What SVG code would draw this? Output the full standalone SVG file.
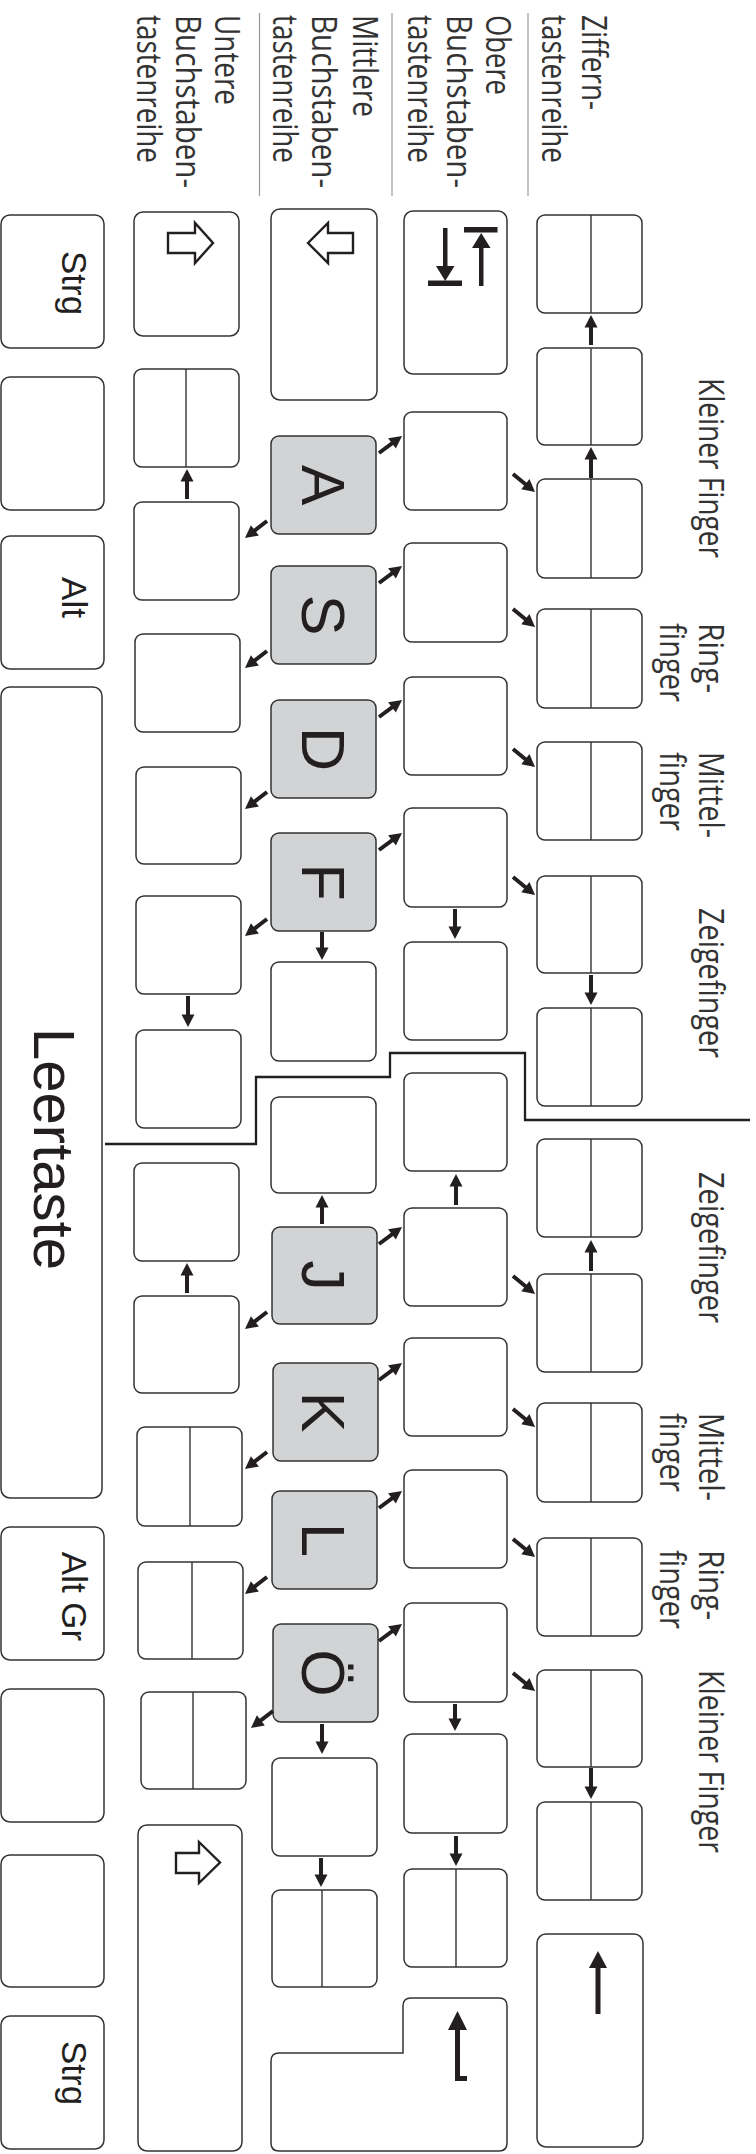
<svg xmlns="http://www.w3.org/2000/svg" width="756" height="2154" viewBox="0 0 756 2154">
<style>
.k{fill:#fff;stroke:#333;stroke-width:1.5}
.h{fill:#d1d3d4;stroke:#333;stroke-width:1.5}
.d{stroke:#333;stroke-width:1.4}
.lbl{font-family:"Open Sans","Liberation Sans",sans-serif;font-size:34px;fill:#333}
.kl{font-family:"Liberation Sans",Arial,sans-serif;fill:#231f20}
.big{font-size:61px}
.mid{font-size:35px}
.a{stroke:#231f20;stroke-width:4;fill:none;marker-end:url(#ah)}
.sep{stroke:#999;stroke-width:1.2}
.ic{fill:#231f20}
.io{fill:#fff;stroke:#231f20;stroke-width:2.4;stroke-linejoin:miter}
</style>
<defs>
<marker id="ah" viewBox="-3 -7 14 14" refX="0" refY="0" markerWidth="14" markerHeight="14" markerUnits="userSpaceOnUse" orient="auto"><path d="M-2.5,-6.5 L10,0 L-2.5,6.5 z" fill="#231f20"/></marker>
</defs>
<rect width="756" height="2154" fill="#fff"/>

<g id="row-labels">
<line class="sep" x1="259.5" y1="13" x2="259.5" y2="196"/>
<line class="sep" x1="392" y1="13" x2="392" y2="196"/>
<line class="sep" x1="528" y1="13" x2="528" y2="196"/>
<text class="lbl" transform="translate(582,15) rotate(90)" textLength="95" lengthAdjust="spacingAndGlyphs">Ziffern-</text>
<text class="lbl" transform="translate(542,15) rotate(90)" textLength="148" lengthAdjust="spacingAndGlyphs">tastenreihe</text>
<text class="lbl" transform="translate(486,15) rotate(90)" textLength="80" lengthAdjust="spacingAndGlyphs">Obere</text>
<text class="lbl" transform="translate(447,15) rotate(90)" textLength="173" lengthAdjust="spacingAndGlyphs">Buchstaben-</text>
<text class="lbl" transform="translate(408,15) rotate(90)" textLength="148" lengthAdjust="spacingAndGlyphs">tastenreihe</text>
<text class="lbl" transform="translate(353,15) rotate(90)" textLength="102" lengthAdjust="spacingAndGlyphs">Mittlere</text>
<text class="lbl" transform="translate(312,15) rotate(90)" textLength="173" lengthAdjust="spacingAndGlyphs">Buchstaben-</text>
<text class="lbl" transform="translate(273,15) rotate(90)" textLength="148" lengthAdjust="spacingAndGlyphs">tastenreihe</text>
<text class="lbl" transform="translate(215,15) rotate(90)" textLength="90" lengthAdjust="spacingAndGlyphs">Untere</text>
<text class="lbl" transform="translate(176,15) rotate(90)" textLength="173" lengthAdjust="spacingAndGlyphs">Buchstaben-</text>
<text class="lbl" transform="translate(137,15) rotate(90)" textLength="148" lengthAdjust="spacingAndGlyphs">tastenreihe</text>
</g>

<g id="finger-labels">
<text class="lbl" transform="translate(699,378) rotate(90)" textLength="180" lengthAdjust="spacingAndGlyphs">Kleiner Finger</text>
<text class="lbl" transform="translate(699,623) rotate(90)" textLength="70" lengthAdjust="spacingAndGlyphs">Ring-</text>
<text class="lbl" transform="translate(660,623) rotate(90)" textLength="79" lengthAdjust="spacingAndGlyphs">finger</text>
<text class="lbl" transform="translate(699,752) rotate(90)" textLength="86" lengthAdjust="spacingAndGlyphs">Mittel-</text>
<text class="lbl" transform="translate(660,752) rotate(90)" textLength="79" lengthAdjust="spacingAndGlyphs">finger</text>
<text class="lbl" transform="translate(699,908) rotate(90)" textLength="150" lengthAdjust="spacingAndGlyphs">Zeigefinger</text>
<text class="lbl" transform="translate(699,1172) rotate(90)" textLength="151" lengthAdjust="spacingAndGlyphs">Zeigefinger</text>
<text class="lbl" transform="translate(699,1413) rotate(90)" textLength="88" lengthAdjust="spacingAndGlyphs">Mittel-</text>
<text class="lbl" transform="translate(660,1413) rotate(90)" textLength="79" lengthAdjust="spacingAndGlyphs">finger</text>
<text class="lbl" transform="translate(699,1550) rotate(90)" textLength="70" lengthAdjust="spacingAndGlyphs">Ring-</text>
<text class="lbl" transform="translate(660,1550) rotate(90)" textLength="79" lengthAdjust="spacingAndGlyphs">finger</text>
<text class="lbl" transform="translate(699,1670) rotate(90)" textLength="183" lengthAdjust="spacingAndGlyphs">Kleiner Finger</text>
</g>

<g id="num1"><rect class="k" x="537" y="215" width="105" height="98" rx="8"/><line class="d" x1="591" y1="215" x2="591" y2="313"/></g>
<g id="num2"><rect class="k" x="537" y="348" width="105" height="97" rx="8"/><line class="d" x1="591" y1="348" x2="591" y2="445"/></g>
<g id="num3"><rect class="k" x="537" y="479" width="105" height="99" rx="8"/><line class="d" x1="591" y1="479" x2="591" y2="578"/></g>
<g id="num4"><rect class="k" x="537" y="609" width="105" height="99" rx="8"/><line class="d" x1="591" y1="609" x2="591" y2="708"/></g>
<g id="num5"><rect class="k" x="537" y="742" width="105" height="98" rx="8"/><line class="d" x1="591" y1="742" x2="591" y2="840"/></g>
<g id="num6"><rect class="k" x="537" y="876" width="105" height="97" rx="8"/><line class="d" x1="591" y1="876" x2="591" y2="973"/></g>
<g id="num7"><rect class="k" x="537" y="1008" width="105" height="98" rx="8"/><line class="d" x1="591" y1="1008" x2="591" y2="1106"/></g>
<g id="num8"><rect class="k" x="537" y="1139" width="105" height="98" rx="8"/><line class="d" x1="591" y1="1139" x2="591" y2="1237"/></g>
<g id="num9"><rect class="k" x="537" y="1274" width="105" height="98" rx="8"/><line class="d" x1="591" y1="1274" x2="591" y2="1372"/></g>
<g id="num10"><rect class="k" x="537" y="1403" width="105" height="99" rx="8"/><line class="d" x1="591" y1="1403" x2="591" y2="1502"/></g>
<g id="num11"><rect class="k" x="537" y="1538" width="105" height="98" rx="8"/><line class="d" x1="591" y1="1538" x2="591" y2="1636"/></g>
<g id="num12"><rect class="k" x="537" y="1670" width="105" height="97" rx="8"/><line class="d" x1="591" y1="1670" x2="591" y2="1767"/></g>
<g id="num13"><rect class="k" x="537" y="1802" width="105" height="98" rx="8"/><line class="d" x1="591" y1="1802" x2="591" y2="1900"/></g>
<g id="backspace"><rect class="k" x="537" y="1934" width="106" height="213" rx="9"/><rect class="ic" x="595.5" y="1966" width="5" height="48"/><polygon class="ic" points="589,1968 607,1968 598,1951"/></g>

<g id="tab"><rect class="k" x="404" y="211" width="103" height="163" rx="9"/>
<rect class="ic" x="443" y="228" width="4.5" height="40"/><polygon class="ic" points="436,266 454.5,266 445.2,281"/><rect class="ic" x="428" y="280.5" width="34" height="5.5"/>
<rect class="ic" x="479" y="246" width="4.5" height="40"/><polygon class="ic" points="472,248 490.5,248 481.2,233"/><rect class="ic" x="464" y="227" width="33.5" height="5.5"/></g>
<g id="q"><rect class="k" x="404" y="412" width="103" height="98" rx="8"/></g>
<g id="w"><rect class="k" x="404" y="543" width="103" height="99" rx="8"/></g>
<g id="e"><rect class="k" x="404" y="677" width="103" height="98" rx="8"/></g>
<g id="r"><rect class="k" x="404" y="808" width="103" height="99" rx="8"/></g>
<g id="t"><rect class="k" x="404" y="942" width="103" height="98" rx="8"/></g>
<g id="z"><rect class="k" x="404" y="1073" width="103" height="98" rx="8"/></g>
<g id="u"><rect class="k" x="404" y="1208" width="103" height="98" rx="8"/></g>
<g id="i"><rect class="k" x="404" y="1338" width="103" height="98" rx="8"/></g>
<g id="o"><rect class="k" x="404" y="1470" width="103" height="98" rx="8"/></g>
<g id="p"><rect class="k" x="404" y="1603" width="103" height="99" rx="8"/></g>
<g id="ue"><rect class="k" x="404" y="1734" width="103" height="99" rx="8"/></g>
<g id="plus"><rect class="k" x="404" y="1869" width="103" height="98" rx="8"/><line class="d" x1="456" y1="1869" x2="456" y2="1967"/></g>
<g id="enter"><path class="k" d="M271,2061 Q271,2053 279,2053 L403,2053 L403,2006 Q403,1998 411,1998 L499,1998 Q507,1998 507,2006 L507,2143 Q507,2151 499,2151 L279,2151 Q271,2151 271,2143 Z"/>
<rect class="ic" x="455" y="2028" width="5" height="53"/><rect class="ic" x="455" y="2076" width="12" height="5"/><polygon class="ic" points="448,2030 467,2030 457.5,2011"/></g>

<g id="caps"><rect class="k" x="271" y="209" width="106" height="191" rx="9"/><polygon class="io" points="308,243 328,223 328,233 353,233 353,253 328,253 328,263"/></g>
<g id="key-a"><rect class="h" x="271" y="436" width="105" height="98" rx="8"/><text class="kl big" transform="translate(302,485) rotate(90)" text-anchor="middle">A</text></g>
<g id="key-s"><rect class="h" x="271" y="566" width="105" height="98" rx="8"/><text class="kl big" transform="translate(302,615) rotate(90)" text-anchor="middle">S</text></g>
<g id="key-d"><rect class="h" x="271" y="700" width="105" height="98" rx="8"/><text class="kl big" transform="translate(302,749) rotate(90)" text-anchor="middle">D</text></g>
<g id="key-f"><rect class="h" x="271" y="833" width="105" height="98" rx="8"/><text class="kl big" transform="translate(302,882) rotate(90)" text-anchor="middle">F</text></g>
<g id="g"><rect class="k" x="271" y="962" width="105" height="99" rx="8"/></g>
<g id="hkey"><rect class="k" x="271" y="1097" width="105" height="96" rx="8"/></g>
<g id="key-j"><rect class="h" x="272" y="1227" width="105" height="97" rx="8"/><text class="kl big" transform="translate(302,1275.5) rotate(90)" text-anchor="middle">J</text></g>
<g id="key-k"><rect class="h" x="273" y="1363" width="105" height="98" rx="8"/><text class="kl big" transform="translate(302,1412) rotate(90)" text-anchor="middle">K</text></g>
<g id="key-l"><rect class="h" x="272" y="1491" width="105" height="98" rx="8"/><text class="kl big" transform="translate(302,1540) rotate(90)" text-anchor="middle">L</text></g>
<g id="key-oe"><rect class="h" x="273" y="1624" width="105" height="98" rx="8"/><text class="kl big" transform="translate(302,1673) rotate(90)" text-anchor="middle">Ö</text></g>
<g id="ae"><rect class="k" x="272" y="1758" width="105" height="98" rx="8"/></g>
<g id="hash"><rect class="k" x="272" y="1890" width="105" height="97" rx="8"/><line class="d" x1="322" y1="1890" x2="322" y2="1987"/></g>

<g id="lshift"><rect class="k" x="134" y="212" width="105" height="124" rx="9"/><polygon class="io" points="168,233 195,233 195,223 213,243 195,263 195,253 168,253"/></g>
<g id="less"><rect class="k" x="134" y="369" width="105" height="98" rx="8"/><line class="d" x1="186" y1="369" x2="186" y2="467"/></g>
<g id="y"><rect class="k" x="134" y="502" width="105" height="98" rx="8"/></g>
<g id="x"><rect class="k" x="135" y="634" width="105" height="98" rx="8"/></g>
<g id="c"><rect class="k" x="136" y="767" width="105" height="97" rx="8"/></g>
<g id="v"><rect class="k" x="136" y="896" width="105" height="98" rx="8"/></g>
<g id="b"><rect class="k" x="136" y="1030" width="105" height="98" rx="8"/></g>
<g id="n"><rect class="k" x="134" y="1163" width="105" height="98" rx="8"/></g>
<g id="m"><rect class="k" x="134" y="1296" width="105" height="97" rx="8"/></g>
<g id="comma"><rect class="k" x="137" y="1427" width="105" height="99" rx="8"/><line class="d" x1="190" y1="1427" x2="190" y2="1526"/></g>
<g id="period"><rect class="k" x="138" y="1562" width="105" height="97" rx="8"/><line class="d" x1="192" y1="1562" x2="192" y2="1659"/></g>
<g id="minus"><rect class="k" x="141" y="1692" width="105" height="97" rx="8"/><line class="d" x1="193" y1="1692" x2="193" y2="1789"/></g>
<g id="rshift"><rect class="k" x="138" y="1825" width="104" height="326" rx="9"/><polygon class="io" points="176,1853 199,1853 199,1842 220,1862.5 199,1883 199,1873 176,1873"/></g>

<g id="strg-l"><rect class="k" x="1" y="215" width="103" height="133" rx="9"/><text class="kl mid" transform="translate(62,283) rotate(90)" text-anchor="middle">Strg</text></g>
<g id="win-l"><rect class="k" x="1" y="377" width="103" height="133" rx="9"/></g>
<g id="alt"><rect class="k" x="1" y="536" width="103" height="133" rx="9"/><text class="kl mid" transform="translate(62,597.5) rotate(90)" text-anchor="middle">Alt</text></g>
<g id="space"><rect class="k" x="1" y="687" width="101" height="811" rx="9"/><text class="kl" font-size="58" transform="translate(34,1149) rotate(90)" text-anchor="middle">Leertaste</text></g>
<g id="altgr"><rect class="k" x="1" y="1527" width="103" height="133" rx="9"/><text class="kl mid" transform="translate(62,1596.5) rotate(90)" text-anchor="middle">Alt Gr</text></g>
<g id="win-r"><rect class="k" x="1" y="1689" width="103" height="133" rx="9"/></g>
<g id="menu"><rect class="k" x="1" y="1855" width="103" height="132" rx="9"/></g>
<g id="strg-r"><rect class="k" x="1" y="2016" width="103" height="133" rx="9"/><text class="kl mid" transform="translate(62,2073) rotate(90)" text-anchor="middle">Strg</text></g>

<g id="hand-divider">
<polyline points="105,1144 256,1144 256,1077 390,1077 390,1053 525,1053 525,1120 750,1120" fill="none" stroke="#231f20" stroke-width="2.3"/>
</g>

<g id="connectors">
<line class="a" x1="379" y1="453" x2="394" y2="441.9"/>
<line class="a" x1="379" y1="583" x2="394" y2="571.9"/>
<line class="a" x1="379" y1="717" x2="394" y2="705.9"/>
<line class="a" x1="379" y1="850" x2="394" y2="838.9"/>
<line class="a" x1="379" y1="1244" x2="394" y2="1232.9"/>
<line class="a" x1="379" y1="1380" x2="394" y2="1368.9"/>
<line class="a" x1="379" y1="1508" x2="394" y2="1496.9"/>
<line class="a" x1="379" y1="1641" x2="394" y2="1629.9"/>

<line class="a" x1="513" y1="474" x2="527.3" y2="485.7"/>
<line class="a" x1="513" y1="609" x2="527.3" y2="620.7"/>
<line class="a" x1="513" y1="749" x2="527.3" y2="760.7"/>
<line class="a" x1="513" y1="877" x2="527.3" y2="888.7"/>
<line class="a" x1="513" y1="1276" x2="527.3" y2="1287.7"/>
<line class="a" x1="513" y1="1409" x2="527.3" y2="1420.7"/>
<line class="a" x1="513" y1="1539" x2="527.3" y2="1550.7"/>
<line class="a" x1="513" y1="1673" x2="527.3" y2="1684.7"/>

<line class="a" x1="267" y1="521" x2="252.9" y2="531.9"/>
<line class="a" x1="267" y1="651" x2="252.9" y2="661.9"/>
<line class="a" x1="267" y1="792" x2="252.9" y2="802.9"/>
<line class="a" x1="267" y1="919" x2="252.9" y2="929.9"/>
<line class="a" x1="267" y1="1312" x2="252.9" y2="1322.9"/>
<line class="a" x1="267" y1="1452" x2="252.9" y2="1462.9"/>
<line class="a" x1="267" y1="1577" x2="252.9" y2="1587.9"/>
<line class="a" x1="273" y1="1711" x2="258.9" y2="1721.9"/>

<line class="a" x1="591" y1="345" x2="591" y2="325"/>
<line class="a" x1="591" y1="478" x2="591" y2="457"/>
<line class="a" x1="187" y1="499" x2="187" y2="479"/>
<line class="a" x1="322" y1="1224" x2="322" y2="1205"/>
<line class="a" x1="456" y1="1205" x2="456" y2="1184"/>
<line class="a" x1="591" y1="1271" x2="591" y2="1250"/>
<line class="a" x1="187" y1="1293" x2="187" y2="1273"/>

<line class="a" x1="322" y1="932" x2="322" y2="950"/>
<line class="a" x1="455" y1="909" x2="455" y2="929"/>
<line class="a" x1="591" y1="975" x2="591" y2="995"/>
<line class="a" x1="188" y1="996" x2="188" y2="1017"/>
<line class="a" x1="322" y1="1724" x2="322" y2="1744"/>
<line class="a" x1="321" y1="1858" x2="321" y2="1877"/>
<line class="a" x1="455" y1="1704" x2="455" y2="1721"/>
<line class="a" x1="456" y1="1836" x2="456" y2="1856"/>
<line class="a" x1="591" y1="1768" x2="591" y2="1789"/>
</g>
</svg>
